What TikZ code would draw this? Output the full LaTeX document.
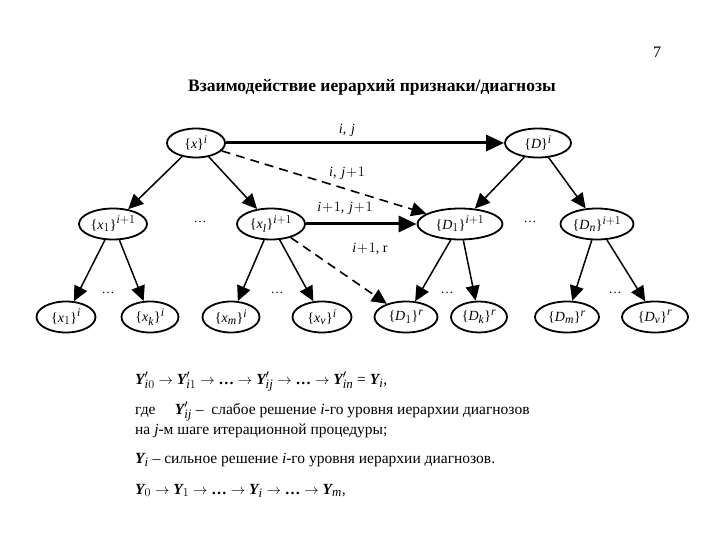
\documentclass[tikz,border=0pt]{standalone}
\usepackage{fontspec}
\setmainfont{Liberation Serif}
\usepackage[italic]{mathastext}
\usetikzlibrary{arrows.meta,shapes.geometric}
\newcommand\YB{{\bfseries\itshape Y}}
\begin{document}
\begin{tikzpicture}[x=1pt,y=-1pt,
  el/.style={draw,ellipse,line width=1.8pt,minimum width=#1,minimum height=31pt,inner sep=0pt,font=\fontsize{14}{16}\selectfont},
  arr/.style={-{Triangle[length=15pt,width=14pt]},line width=1.5pt},
  mainarr/.style={-{Triangle[length=18pt,width=16pt]},line width=3pt},
  dasharr/.style={-{Triangle[length=15pt,width=14pt]},line width=1.6pt,dash pattern=on 9pt off 6pt},
  lbl/.style={font=\fontsize{14}{16}\selectfont,inner sep=0pt},
  dots/.style={font=\fontsize{13}{15}\selectfont,inner sep=0pt},
  body/.style={anchor=base west,inner sep=0pt,font=\fontsize{15.5}{18}\selectfont}]
\useasboundingbox (0,0) rectangle (720,540);
% header
\node[inner sep=0pt,font=\fontsize{16}{18}\selectfont] (pg) at (657,52) {7};
\node[inner sep=0pt,font=\fontsize{17.5}{20}\selectfont\bfseries] (title) at (372,87) {Взаимодействие иерархий признаки/диагнозы};
% top row
\node[el=58pt,minimum height=29pt] (X) at (196,143) {$\{x\}^i$};
\node[el=66pt,minimum height=29pt] (D) at (538,143) {$\{D\}^i$};
% middle row
\node[el=68pt] (X1) at (113,224) {$\{x_1\}^{i+1}$};
\node[el=68pt] (Xl) at (271,224) {$\{x_l\}^{i+1}$};
\node[el=85pt] (D1) at (460,224) {$\{D_1\}^{i+1}$};
\node[el=73pt] (Dn) at (597,224) {$\{D_n\}^{i+1}$};
\node[dots] (m1) at (200,222) {\ldots};
\node[dots] (m2) at (530,222) {\ldots};
% bottom row
\node[el=59pt] (x1) at (66,317) {$\{x_1\}^i$};
\node[el=57pt] (xk) at (150,317) {$\{x_k\}^i$};
\node[el=57pt] (xm) at (231,317) {$\{x_m\}^i$};
\node[el=59pt] (xv) at (322,317) {$\{x_v\}^i$};
\node[el=63pt] (d1) at (406,317) {$\{D_1\}^r$};
\node[el=56pt] (dk) at (479,317) {$\{D_k\}^r$};
\node[el=64pt] (dm) at (567,317) {$\{D_m\}^r$};
\node[el=66pt] (dv) at (655,317) {$\{D_v\}^r$};
\node[dots] (b1) at (108,293) {\ldots};
\node[dots] (b2) at (277,293) {\ldots};
\node[dots] (b3) at (447,293) {\ldots};
\node[dots] (b4) at (615,293) {\ldots};
% tree edges
\draw[arr] (X) -- (X1);
\draw[arr] (X) -- (Xl);
\draw[arr] (D) -- (D1);
\draw[arr] (D) -- (Dn);
\draw[arr] (X1) -- (x1);
\draw[arr] (X1) -- (xk);
\draw[arr] (Xl) -- (xm);
\draw[arr] (Xl) -- (xv);
\draw[arr] (D1) -- (d1);
\draw[arr] (D1) -- (dk);
\draw[arr] (Dn) -- (dm);
\draw[arr] (Dn) -- (dv);
% interaction edges
\draw[mainarr] (X) -- (D);
\draw[mainarr] (Xl) -- (D1);
\draw[dasharr] (X) -- (D1);
\draw[dasharr] (Xl) -- (d1);
\node[lbl] (l1) at (347,130) {$i,\,j$};
\node[lbl] (l2) at (347,173) {$i,\,j\!+\!1$};
\node[lbl] (l3) at (345,208) {$i\!+\!1,\,j\!+\!1$};
\node[lbl] (l4) at (370,249) {$i\!+\!1$, r};
% text
\node[body] (t1) at (135,384) {\YB$'_{i0}\rightarrow$ \YB$'_{i1}\rightarrow$ \textbf{\ldots} $\rightarrow$ \YB$'_{ij}\rightarrow$ \textbf{\ldots} $\rightarrow$ \YB$'_{in}$ = \YB$_i$,};
\node[body] (t2) at (135,414) {где\quad\ \YB$'_{ij}$ –\ \ слабое решение \textit{i}-го уровня иерархии диагнозов};
\node[body] (t3) at (135,434) {на \textit{j}-м шаге итерационной процедуры;};
\node[body] (t4) at (135,463) {\YB$_i$ – сильное решение \textit{i}-го уровня иерархии диагнозов.};
\node[body] (t5) at (135,494) {\YB$_0\rightarrow$ \YB$_1\rightarrow$ \textbf{\ldots} $\rightarrow$ \YB$_i\rightarrow$ \textbf{\ldots} $\rightarrow$ \YB$_m$,};
\end{tikzpicture}
\end{document}
